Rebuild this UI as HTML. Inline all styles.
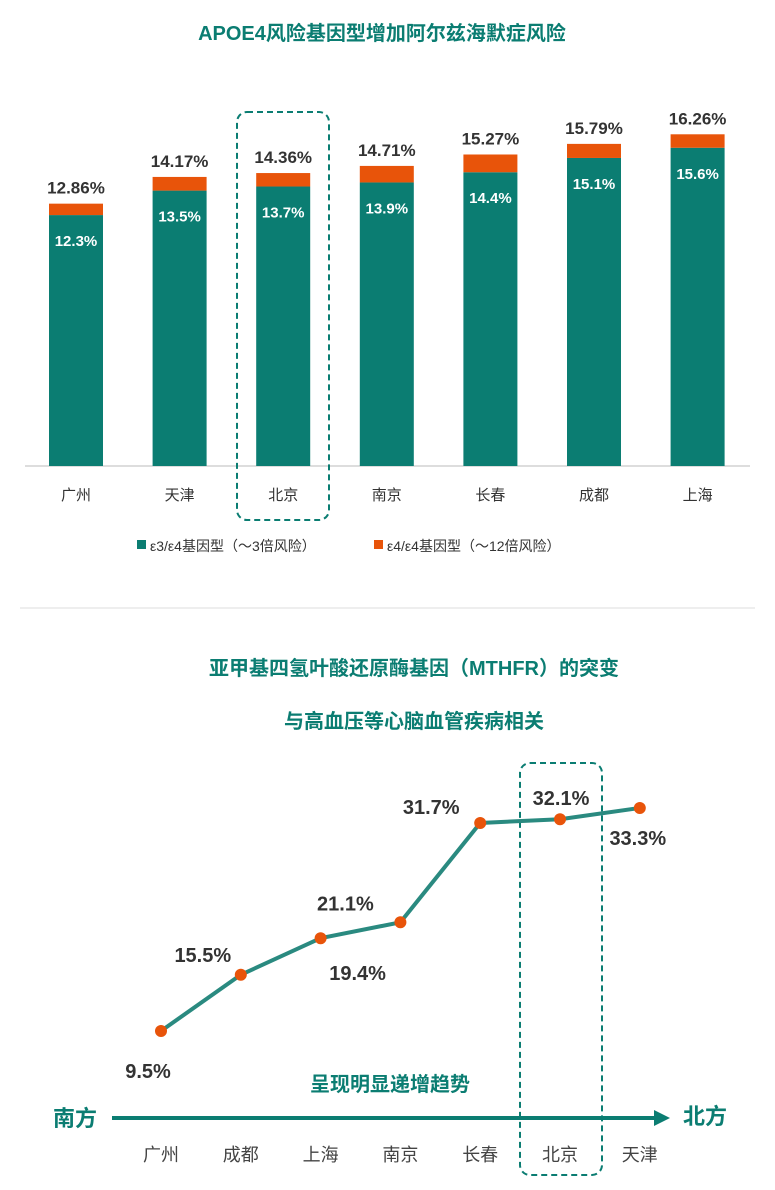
<!DOCTYPE html>
<html><head><meta charset="utf-8"><style>
body{margin:0;background:#fff;width:775px;height:1185px;overflow:hidden;font-family:"Liberation Sans","Noto Sans CJK SC",sans-serif}
svg text{font-family:"Liberation Sans","Noto Sans CJK SC",sans-serif}
</style></head><body>
<svg id="s" width="775" height="1185" xmlns="http://www.w3.org/2000/svg">
<text x="382" y="40" text-anchor="middle" font-size="20" font-weight="bold" fill="#0b7d72">APOE4风险基因型增加阿尔兹海默症风险</text>
<line x1="25" y1="466" x2="750" y2="466" stroke="#bbb" stroke-width="1"/>
<rect x="237" y="112" width="92" height="408" rx="10" fill="none" stroke="#0b7d72" stroke-width="2" stroke-dasharray="6,4"/>
<g id="bars"></g>
<rect x="137" y="540" width="9" height="9" fill="#0b7d72"/>
<text x="150" y="551" font-size="14" fill="#333">ε3/ε4基因型（～3倍风险）</text>
<rect x="374" y="540" width="9" height="9" fill="#e8540a"/>
<text x="387" y="551" font-size="14" fill="#333">ε4/ε4基因型（～12倍风险）</text>
<line x1="20" y1="608" x2="755" y2="608" stroke="#ddd" stroke-width="1"/>
<text x="414" y="675" text-anchor="middle" font-size="20" font-weight="bold" fill="#0b7d72">亚甲基四氢叶酸还原酶基因（MTHFR）的突变</text>
<text x="414" y="728" text-anchor="middle" font-size="20" font-weight="bold" fill="#0b7d72">与高血压等心脑血管疾病相关</text>
<rect x="520" y="763" width="82" height="412" rx="10" fill="none" stroke="#0b7d72" stroke-width="2" stroke-dasharray="6,4"/>
<g id="line"></g>
<text x="390" y="1091" text-anchor="middle" font-size="20" font-weight="bold" fill="#0b7d72">呈现明显递增趋势</text>
<line x1="112" y1="1118" x2="656" y2="1118" stroke="#0b7d72" stroke-width="4"/>
<polygon points="654,1110 670,1118 654,1126" fill="#0b7d72"/>
<text x="75" y="1126" text-anchor="middle" font-size="22" font-weight="bold" fill="#0b7d72">南方</text>
<text x="705" y="1124" text-anchor="middle" font-size="22" font-weight="bold" fill="#0b7d72">北方</text>
</svg>
<script>
const barCities=["广州","天津","北京","南京","长春","成都","上海"];
const e3e4=[12.3,13.5,13.7,13.9,14.4,15.1,15.6];
const totals=[12.86,14.17,14.36,14.71,15.27,15.79,16.26];
const lineCities=["广州","成都","上海","南京","长春","北京","天津"];
const mthfr=[9.5,15.5,19.4,21.1,31.7,32.1,33.3];
const labelDx=[-13,-38,37,-55,-49,1,-2];
const labelDy=[40,-20,35,-19,-16,-21,30];
const NS="http://www.w3.org/2000/svg";
function mk(p,t,a,txt){const e=document.createElementNS(NS,t);for(const k in a)e.setAttribute(k,a[k]);if(txt!==undefined)e.textContent=txt;p.appendChild(e);return e;}
const bx=i=>76+i*103.6, by=v=>466-v*20.4;
const g=document.getElementById('bars');
barCities.forEach((c,i)=>{
 const x=bx(i)-27;
 let r=mk(g,'rect',{x:x,y:by(e3e4[i]),width:54,height:466-by(e3e4[i]),fill:'#0b7d72'});
 
 
 r=mk(g,'rect',{x:x,y:by(totals[i]),width:54,height:by(e3e4[i])-by(totals[i]),fill:'#e8540a'});
 
 
 let t=mk(g,'text',{x:bx(i),y:by(e3e4[i])+31,'text-anchor':'middle','font-size':15,'font-weight':'bold',fill:'#fff'},e3e4[i].toFixed(1)+'%');
 
 
 t=mk(g,'text',{x:bx(i),y:by(totals[i])-10,'text-anchor':'middle','font-size':17,'font-weight':'bold',fill:'#333'},totals[i].toFixed(2)+'%');
 
 
 t=mk(g,'text',{x:bx(i),y:500,'text-anchor':'middle','font-size':15,fill:'#333'},c);
 
 
});
const lx=i=>161+i*79.8, ly=v=>1120-v*9.37;
const lg=document.getElementById('line');
const pl=mk(lg,'polyline',{points:mthfr.map((v,i)=>lx(i)+','+ly(v)).join(' '),fill:'none',stroke:'#2a8a80','stroke-width':4});


mthfr.forEach((v,i)=>{
 let c=mk(lg,'circle',{cx:lx(i),cy:ly(v),r:6,fill:'#e8540a'});
 
 
 let t=mk(lg,'text',{x:lx(i)+labelDx[i],y:ly(v)+labelDy[i]+7,'text-anchor':'middle','font-size':20,'font-weight':'bold',fill:'#333'},v.toFixed(1)+'%');
 
 
 t=mk(lg,'text',{x:lx(i),y:1161,'text-anchor':'middle','font-size':18,fill:'#444'},lineCities[i]);
 
 
});
</script>
</body></html>
